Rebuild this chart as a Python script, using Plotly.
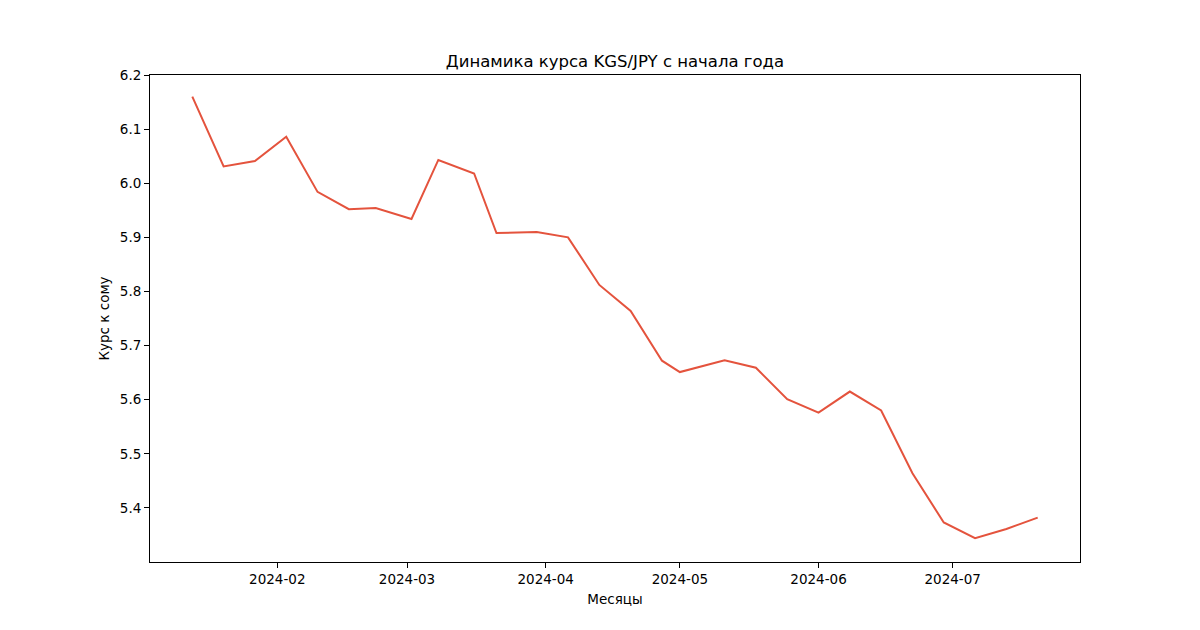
import plotly.graph_objects as go

dates = ["2024-01-13", "2024-01-20", "2024-01-27", "2024-02-03", "2024-02-10",
         "2024-02-17", "2024-02-23", "2024-03-02", "2024-03-08", "2024-03-16",
         "2024-03-21", "2024-03-30", "2024-04-06", "2024-04-13", "2024-04-20",
         "2024-04-27", "2024-05-01", "2024-05-11", "2024-05-18", "2024-05-25",
         "2024-06-01", "2024-06-08", "2024-06-15", "2024-06-22", "2024-06-29",
         "2024-07-06", "2024-07-13", "2024-07-20"]
rates = [6.160, 6.031, 6.041, 6.086, 5.984, 5.952, 5.954, 5.934, 6.043, 6.018,
         5.908, 5.910, 5.900, 5.812, 5.764, 5.672, 5.651, 5.673, 5.659, 5.601,
         5.576, 5.615, 5.580, 5.464, 5.373, 5.344, 5.361, 5.382]
y_ticks = [5.4, 5.5, 5.6, 5.7, 5.8, 5.9, 6.0, 6.1, 6.2]
x_ticks = ["2024-02-01", "2024-03-01", "2024-04-01", "2024-05-01", "2024-06-01", "2024-07-01"]

font = "DejaVu Sans"
fig = go.Figure()
fig.add_trace(go.Scatter(x=dates, y=rates, mode="lines",
                         line=dict(color="#e4533d", width=2)))

axis_common = dict(showline=True, linecolor="black", linewidth=1, mirror=True,
                   ticks="outside", ticklen=5, tickwidth=1, tickcolor="black",
                   showgrid=False, zeroline=False,
                   tickfont=dict(family=font, size=13.5, color="black"))

fig.update_layout(
    width=1200, height=630,
    margin=dict(l=150, r=120, t=75, b=68),
    paper_bgcolor="white", plot_bgcolor="white",
    showlegend=False,
    title=dict(text="Динамика курса KGS/JPY с начала года",
               x=0.5, xref="paper", xanchor="center",
               y=1, yref="paper", yanchor="bottom", pad=dict(b=8),
               font=dict(family=font, size=16.5, color="black")),
    xaxis=dict(range=["2024-01-03 13:00", "2024-07-29 11:00"],
               tickvals=x_ticks, tickformat="%Y-%m",
               title=dict(text="Месяцы", standoff=8,
                          font=dict(family=font, size=13.5, color="black")),
               **axis_common),
    yaxis=dict(range=[5.3, 6.2], tickvals=y_ticks, tickformat=".1f",
               title=dict(text="Курс к сому", standoff=7,
                          font=dict(family=font, size=13.5, color="black")),
               **axis_common),
)

fig.write_html("out.html")
